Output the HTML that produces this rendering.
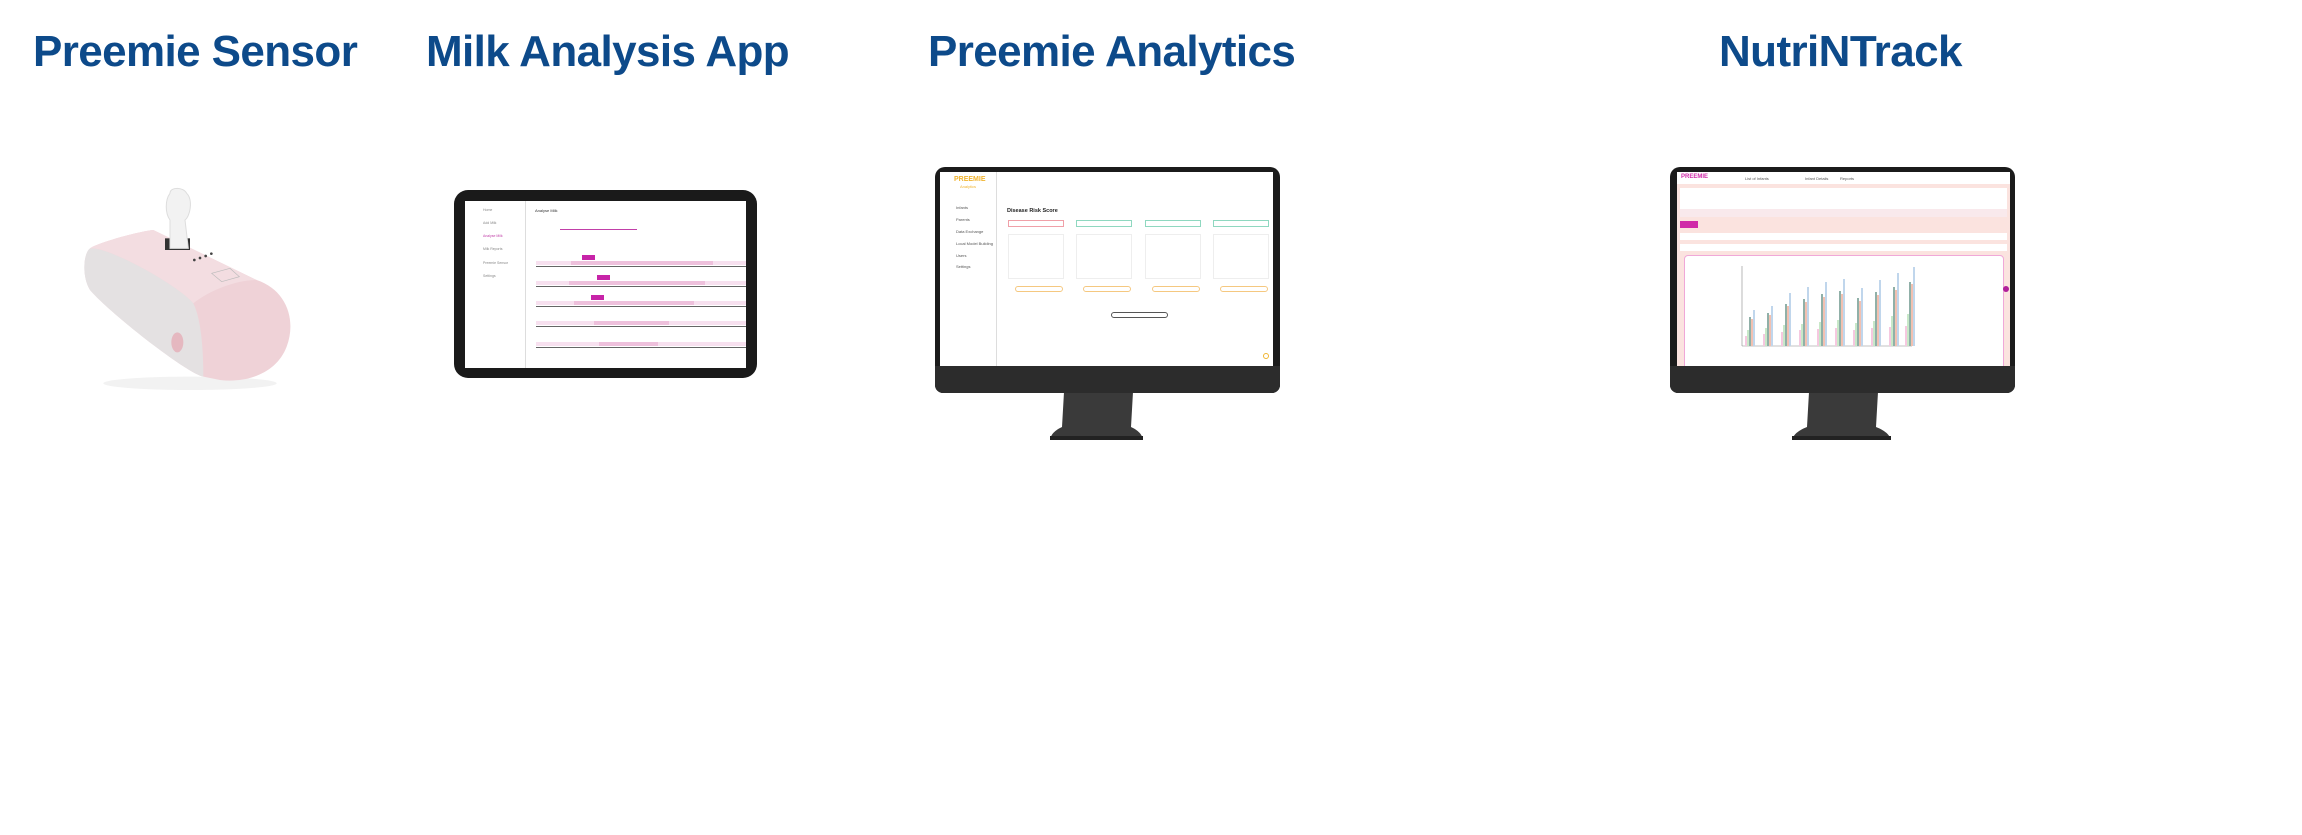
<!DOCTYPE html>
<html><head><meta charset="utf-8"><style>
*{margin:0;padding:0;box-sizing:border-box}
body{width:2302px;height:835px;background:#fff;position:relative;overflow:hidden;font-family:"Liberation Sans",sans-serif}
.t{position:absolute;top:27px;color:#0d4a8a;font-weight:bold;font-size:44px;white-space:nowrap;letter-spacing:-0.6px;transform-origin:left top}
.a{position:absolute}
.mon{position:absolute;width:345px;height:226px;background:#1b1b1b;border-radius:10px 10px 8px 8px;top:167px}
.chin{position:absolute;left:0;right:0;top:199px;bottom:0;background:#2c2c2c;border-radius:0 0 8px 8px}
.scr{position:absolute;left:7px;top:5px;width:333px;height:194px;background:#fff;overflow:hidden;font-size:4px;color:#555}
</style></head><body>
<div class="t" style="left:33px">Preemie Sensor</div>
<div class="t" style="left:426px">Milk Analysis App</div>
<div class="t" style="left:928px">Preemie Analytics</div>
<div class="t" style="left:1719px">NutriNTrack</div>

<!-- sensor -->
<svg class="a" style="left:70px;top:180px" width="240" height="215" viewBox="0 0 720 645">
<ellipse cx="360" cy="610" rx="260" ry="20" fill="#f2f2f2"/>
<path d="M60,205 C80,190 200,155 250,150 L560,300 C650,330 680,420 650,500 C620,580 530,610 450,600 L400,590 C350,580 120,400 60,330 C35,290 40,220 60,205 Z" fill="#efd2d7"/>
<path d="M60,205 C120,200 330,320 370,370 C395,420 400,520 400,590 C350,580 120,400 60,330 C35,290 40,220 60,205 Z" fill="#e4e1e2"/>
<path d="M250,150 L560,300 C500,300 420,330 370,370 C330,320 120,200 60,205 C80,190 200,155 250,150Z" fill="#f3dde1"/>
<rect x="285" y="175" width="75" height="35" fill="#333"/>
<path d="M300,40 C300,20 340,20 350,40 C370,60 360,110 345,120 L355,205 L300,205 L300,120 C285,100 285,60 300,40Z" fill="#f2f2f2" stroke="#ddd" stroke-width="3"/>
<circle cx="373" cy="240" r="4" fill="#444"/><circle cx="390" cy="234" r="4" fill="#444"/><circle cx="407" cy="228" r="4" fill="#444"/><circle cx="424" cy="221" r="4" fill="#444"/>
<path d="M425,280 L480,265 L508,290 L455,305Z" fill="none" stroke="#bbb" stroke-width="2"/>
<ellipse cx="322" cy="487" rx="18" ry="30" fill="#e5b8c0"/>
</svg>

<!-- tablet -->
<div class="a" style="left:454px;top:190px;width:303px;height:188px;background:#1a1a1a;border-radius:14px"></div>
<div class="a" style="left:465px;top:201px;width:281px;height:167px;background:#fff;font-size:3.5px;color:#888;overflow:hidden">
 <div class="a" style="left:60px;top:0;width:1px;height:167px;background:#ddd"></div>
 <div class="a" style="left:18px;top:7px">Home</div><div class="a" style="left:18px;top:20px">Add Milk</div>
 <div class="a" style="left:18px;top:33px;color:#c13fa8">Analyse Milk</div><div class="a" style="left:18px;top:46px">Milk Reports</div>
 <div class="a" style="left:18px;top:60px">Preemie Sensor</div><div class="a" style="left:18px;top:73px">Settings</div>
 <div class="a" style="left:70px;top:7px;color:#333;font-size:4px">Analyse Milk</div>
 <div class="a" style="left:95px;top:28px;width:77px;height:1px;background:#c13fa8"></div>
 <div class="a" style="left:71px;top:60px;width:210px;height:4px;background:#f7e0ef"></div><div class="a" style="left:106px;top:60px;width:142px;height:4px;background:#eec0dc"></div><div class="a" style="left:71px;top:65px;width:210px;height:1px;background:#666"></div><div class="a" style="left:117px;top:54px;width:13px;height:5px;background:#c724a8"></div>
 <div class="a" style="left:71px;top:80px;width:210px;height:4px;background:#f7e0ef"></div><div class="a" style="left:104px;top:80px;width:136px;height:4px;background:#eec0dc"></div><div class="a" style="left:71px;top:85px;width:210px;height:1px;background:#666"></div><div class="a" style="left:132px;top:74px;width:13px;height:5px;background:#c724a8"></div>
 <div class="a" style="left:71px;top:100px;width:210px;height:4px;background:#f7e0ef"></div><div class="a" style="left:109px;top:100px;width:120px;height:4px;background:#eec0dc"></div><div class="a" style="left:71px;top:105px;width:210px;height:1px;background:#666"></div><div class="a" style="left:126px;top:94px;width:13px;height:5px;background:#c724a8"></div>
 <div class="a" style="left:71px;top:120px;width:210px;height:4px;background:#f7e0ef"></div><div class="a" style="left:129px;top:120px;width:75px;height:4px;background:#eec0dc"></div><div class="a" style="left:71px;top:125px;width:210px;height:1px;background:#666"></div>
 <div class="a" style="left:71px;top:141px;width:210px;height:4px;background:#f7e0ef"></div><div class="a" style="left:134px;top:141px;width:59px;height:4px;background:#eec0dc"></div><div class="a" style="left:71px;top:146px;width:210px;height:1px;background:#666"></div>
</div>

<!-- monitor 1 -->
<svg class="a" style="left:1042px;top:392px" width="110" height="50" viewBox="0 0 110 50"><path d="M22,0 L91,0 L89,35 Q100,40 101,48 L8,48 Q9,40 20,35Z" fill="#3a3a3a"/><rect x="8" y="44" width="93" height="4" fill="#222"/></svg>
<div class="mon" style="left:935px"><div class="chin"></div><div class="scr" style="left:5px">
 <div class="a" style="left:0;top:0;width:57px;height:194px;border-right:1px solid #ddd"></div>
 <div class="a" style="left:14px;top:4px;color:#f0b430;font-size:7px;font-weight:bold">PREEMIE</div>
 <div class="a" style="left:20px;top:12px;color:#f0b430;font-size:4px">Analytics</div>
 <div class="a" style="left:16px;top:33px">Infants</div><div class="a" style="left:16px;top:45px">Parents</div><div class="a" style="left:16px;top:57px">Data Exchange</div><div class="a" style="left:16px;top:69px">Local Model Building</div><div class="a" style="left:16px;top:81px">Users</div><div class="a" style="left:16px;top:92px">Settings</div>
 <div class="a" style="left:67px;top:36px;font-size:5.5px;font-weight:bold;color:#222">Disease Risk Score</div>
 <div class="a" style="left:68px;top:48px;width:56px;height:7px;border:1px solid #f0a0a8"></div>
 <div class="a" style="left:136px;top:48px;width:56px;height:7px;border:1px solid #8fd8c0"></div>
 <div class="a" style="left:205px;top:48px;width:56px;height:7px;border:1px solid #8fd8c0"></div>
 <div class="a" style="left:273px;top:48px;width:56px;height:7px;border:1px solid #8fd8c0"></div>
 <div class="a" style="left:68px;top:62px;width:56px;height:45px;border:1px solid #eee"></div><div class="a" style="left:136px;top:62px;width:56px;height:45px;border:1px solid #eee"></div><div class="a" style="left:205px;top:62px;width:56px;height:45px;border:1px solid #eee"></div><div class="a" style="left:273px;top:62px;width:56px;height:45px;border:1px solid #eee"></div>
 <div class="a" style="left:75px;top:114px;width:48px;height:6px;border:1px solid #f5c880;border-radius:4px"></div><div class="a" style="left:143px;top:114px;width:48px;height:6px;border:1px solid #f5c880;border-radius:4px"></div><div class="a" style="left:212px;top:114px;width:48px;height:6px;border:1px solid #f5c880;border-radius:4px"></div><div class="a" style="left:280px;top:114px;width:48px;height:6px;border:1px solid #f5c880;border-radius:4px"></div>
 <div class="a" style="left:171px;top:140px;width:57px;height:6px;border:1px solid #555;border-radius:4px"></div>
 <div class="a" style="left:323px;top:181px;width:6px;height:6px;border:1.5px solid #f0b430;border-radius:50%"></div>
</div></div>

<!-- monitor 2 -->
<svg class="a" style="left:1777px;top:392px" width="130" height="50" viewBox="0 0 130 50"><path d="M32,0 L101,0 L99,35 Q112,40 114,48 L15,48 Q17,40 30,35Z" fill="#3a3a3a"/><rect x="15" y="44" width="99" height="4" fill="#222"/></svg>
<div class="mon" style="left:1670px"><div class="chin"></div><div class="scr" style="background:#fbe3df">
 <div class="a" style="left:0;top:0;width:333px;height:12px;background:#fff"></div>
 <div class="a" style="left:4px;top:2px;color:#d02aa8;font-size:6px;font-weight:bold">PREEMIE</div>
 <div class="a" style="left:68px;top:4px">List of Infants</div><div class="a" style="left:128px;top:4px">Infant Details</div><div class="a" style="left:163px;top:4px">Reports</div>
 <div class="a" style="left:3px;top:16px;width:327px;height:28px;background:#fff"></div>
 <div class="a" style="left:3px;top:37px;width:327px;height:8px;background:#f9e9ec"></div>
 <div class="a" style="left:3px;top:49px;width:18px;height:7px;background:#d02aa8"></div>
 <div class="a" style="left:3px;top:61px;width:327px;height:7px;background:#fff"></div>
 <div class="a" style="left:3px;top:72px;width:327px;height:7px;background:#fff"></div>
 <div class="a" style="left:7px;top:83px;width:320px;height:115px;background:#fff;border:1px solid #f0a8d8;border-radius:4px"></div>
 <svg class="a" style="left:60px;top:92px" width="180" height="88"><g fill="none"><line x1="5" y1="2" x2="5" y2="82" stroke="#888" stroke-width=".6"/><line x1="5" y1="82" x2="175" y2="82" stroke="#888" stroke-width=".6"/></g>
 <g><rect x="8" y="72" width="2" height="10" fill="#f6c8e0"/><rect x="10" y="66" width="2" height="16" fill="#c8e8c8"/><rect x="12" y="53" width="2" height="29" fill="#90b0a8"/><rect x="14" y="55" width="2" height="27" fill="#f2c0b0"/><rect x="16" y="46" width="2" height="36" fill="#c0d6ec"/>
 <rect x="26" y="70" width="2" height="12" fill="#f6c8e0"/><rect x="28" y="64" width="2" height="18" fill="#c8e8c8"/><rect x="30" y="49" width="2" height="33" fill="#90b0a8"/><rect x="32" y="51" width="2" height="31" fill="#f2c0b0"/><rect x="34" y="42" width="2" height="40" fill="#c0d6ec"/>
 <rect x="44" y="68" width="2" height="14" fill="#f6c8e0"/><rect x="46" y="61" width="2" height="21" fill="#c8e8c8"/><rect x="48" y="40" width="2" height="42" fill="#90b0a8"/><rect x="50" y="42" width="2" height="40" fill="#f2c0b0"/><rect x="52" y="29" width="2" height="53" fill="#c0d6ec"/>
 <rect x="62" y="66" width="2" height="16" fill="#f6c8e0"/><rect x="64" y="60" width="2" height="22" fill="#c8e8c8"/><rect x="66" y="35" width="2" height="47" fill="#90b0a8"/><rect x="68" y="38" width="2" height="44" fill="#f2c0b0"/><rect x="70" y="23" width="2" height="59" fill="#c0d6ec"/>
 <rect x="80" y="65" width="2" height="17" fill="#f6c8e0"/><rect x="82" y="58" width="2" height="24" fill="#c8e8c8"/><rect x="84" y="30" width="2" height="52" fill="#90b0a8"/><rect x="86" y="33" width="2" height="49" fill="#f2c0b0"/><rect x="88" y="18" width="2" height="64" fill="#c0d6ec"/>
 <rect x="98" y="64" width="2" height="18" fill="#f6c8e0"/><rect x="100" y="56" width="2" height="26" fill="#c8e8c8"/><rect x="102" y="27" width="2" height="55" fill="#90b0a8"/><rect x="104" y="30" width="2" height="52" fill="#f2c0b0"/><rect x="106" y="15" width="2" height="67" fill="#c0d6ec"/>
 <rect x="116" y="66" width="2" height="16" fill="#f6c8e0"/><rect x="118" y="59" width="2" height="23" fill="#c8e8c8"/><rect x="120" y="34" width="2" height="48" fill="#90b0a8"/><rect x="122" y="37" width="2" height="45" fill="#f2c0b0"/><rect x="124" y="24" width="2" height="58" fill="#c0d6ec"/>
 <rect x="134" y="64" width="2" height="18" fill="#f6c8e0"/><rect x="136" y="57" width="2" height="25" fill="#c8e8c8"/><rect x="138" y="28" width="2" height="54" fill="#90b0a8"/><rect x="140" y="31" width="2" height="51" fill="#f2c0b0"/><rect x="142" y="16" width="2" height="66" fill="#c0d6ec"/>
 <rect x="152" y="63" width="2" height="19" fill="#f6c8e0"/><rect x="154" y="52" width="2" height="30" fill="#c8e8c8"/><rect x="156" y="23" width="2" height="59" fill="#90b0a8"/><rect x="158" y="26" width="2" height="56" fill="#f2c0b0"/><rect x="160" y="9" width="2" height="73" fill="#c0d6ec"/>
 <rect x="168" y="62" width="2" height="20" fill="#f6c8e0"/><rect x="170" y="50" width="2" height="32" fill="#c8e8c8"/><rect x="172" y="18" width="2" height="64" fill="#90b0a8"/><rect x="174" y="20" width="2" height="62" fill="#f2c0b0"/><rect x="176" y="3" width="2" height="79" fill="#c0d6ec"/></g></svg>
 <div class="a" style="left:326px;top:114px;width:6px;height:6px;background:#b0209a;border-radius:50%"></div>
</div></div>
</body></html>
